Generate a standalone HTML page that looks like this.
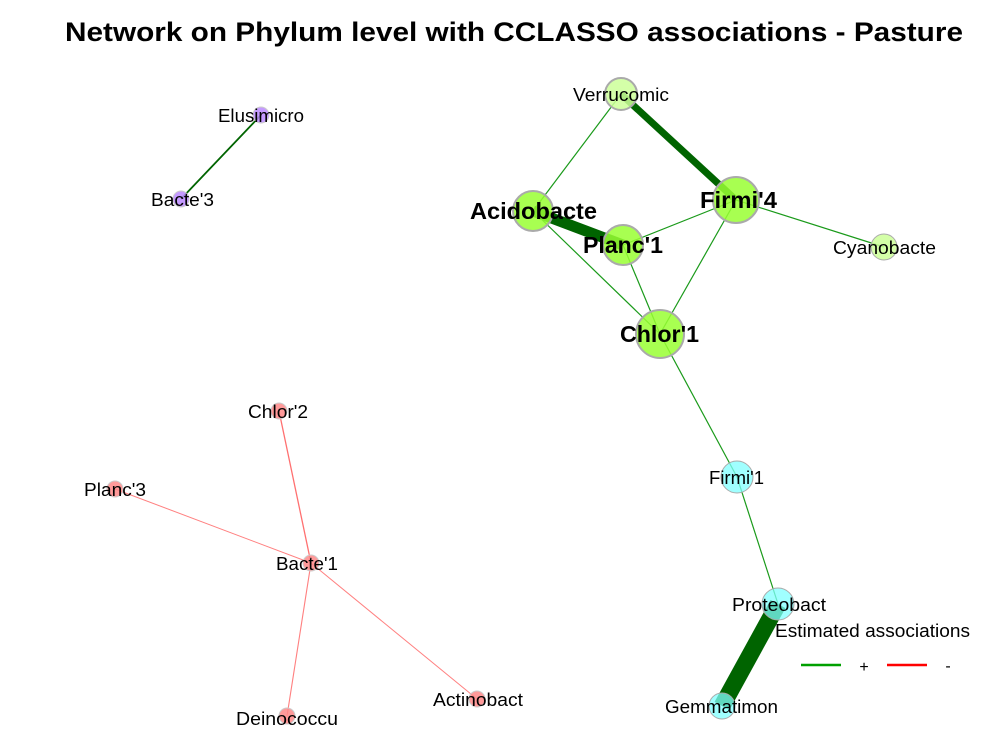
<!DOCTYPE html>
<html><head><meta charset="utf-8"><style>
html,body{margin:0;padding:0;background:#fff;}
svg{display:block;font-family:"Liberation Sans",Arial,sans-serif;}
</style></head><body>
<svg width="1000" height="750" viewBox="0 0 1000 750">
<rect width="1000" height="750" fill="#fff"/>
<text x="65" y="41" font-size="27" font-weight="bold" textLength="898" lengthAdjust="spacingAndGlyphs">Network on Phylum level with CCLASSO associations - Pasture</text>
<!-- edges -->
<g stroke-linecap="butt">
<line x1="621" y1="94" x2="736" y2="200" stroke="#006400" stroke-width="7"/>
<line x1="621" y1="94" x2="533" y2="211" stroke="#1a9a1a" stroke-width="1.2"/>
<line x1="533" y1="211" x2="623" y2="245" stroke="#006400" stroke-width="11"/>
<line x1="533" y1="211" x2="660" y2="334" stroke="#1a9a1a" stroke-width="1.2"/>
<line x1="623" y1="245" x2="736" y2="200" stroke="#1a9a1a" stroke-width="1.2"/>
<line x1="623" y1="245" x2="660" y2="334" stroke="#1a9a1a" stroke-width="1.2"/>
<line x1="736" y1="200" x2="660" y2="334" stroke="#1a9a1a" stroke-width="1.2"/>
<line x1="736" y1="200" x2="884" y2="247" stroke="#1a9a1a" stroke-width="1.2"/>
<line x1="660" y1="334" x2="737" y2="477" stroke="#1a9a1a" stroke-width="1.2"/>
<line x1="737" y1="477" x2="778" y2="604" stroke="#1a9a1a" stroke-width="1.2"/>
<line x1="778" y1="604" x2="722" y2="706" stroke="#006400" stroke-width="17"/>
<line x1="261" y1="115" x2="181" y2="199" stroke="#006400" stroke-width="1.8"/>
<line x1="279" y1="411" x2="311" y2="563" stroke="#ff7070" stroke-width="1.3"/>
<line x1="115" y1="489" x2="311" y2="563" stroke="#ff8080" stroke-width="1"/>
<line x1="311" y1="563" x2="287" y2="716" stroke="#ff8080" stroke-width="1.1"/>
<line x1="311" y1="563" x2="477" y2="699" stroke="#ff8080" stroke-width="1"/>
</g>
<!-- nodes -->
<g stroke="#aaa" stroke-width="2">
<circle cx="621" cy="94" r="16" fill="#ccff99" fill-opacity="0.85"/>
<circle cx="533" cy="211" r="20" fill="#99ff33" fill-opacity="0.85"/>
<circle cx="623" cy="245" r="20" fill="#99ff33" fill-opacity="0.85"/>
<circle cx="736" cy="200" r="23" fill="#99ff33" fill-opacity="0.85"/>
<circle cx="884" cy="247" r="13" fill="#ccff99" fill-opacity="0.85" stroke-width="1"/>
<circle cx="660" cy="334" r="24" fill="#99ff33" fill-opacity="0.85"/>
<circle cx="737" cy="477" r="16" fill="#80ffff" fill-opacity="0.75" stroke-width="1"/>
<circle cx="778" cy="604" r="16" fill="#80ffff" fill-opacity="0.75" stroke-width="1"/>
<circle cx="722" cy="706" r="13" fill="#80ffff" fill-opacity="0.75" stroke-width="1"/>
</g>
<g stroke="#ccc" stroke-width="1" fill-opacity="0.85">
<circle cx="261" cy="115" r="8" fill="#bb88ff"/>
<circle cx="181" cy="199" r="8" fill="#bb88ff"/>
<circle cx="279" cy="411" r="8" fill="#ff8888"/>
<circle cx="115" cy="489" r="8" fill="#ff8888"/>
<circle cx="311" cy="563" r="8" fill="#ff8888"/>
<circle cx="287" cy="716" r="8" fill="#ff8888"/>
<circle cx="477" cy="699" r="8" fill="#ff8888"/>
</g>
<!-- labels -->
<g font-size="18" fill="#000" lengthAdjust="spacingAndGlyphs">
<text x="573" y="101" textLength="96" lengthAdjust="spacingAndGlyphs">Verrucomic</text>
<text x="833" y="254" textLength="103" lengthAdjust="spacingAndGlyphs">Cyanobacte</text>
<text x="709" y="484" textLength="55" lengthAdjust="spacingAndGlyphs">Firmi'1</text>
<text x="732" y="611" textLength="94" lengthAdjust="spacingAndGlyphs">Proteobact</text>
<text x="665" y="713" textLength="113" lengthAdjust="spacingAndGlyphs">Gemmatimon</text>
<text x="218" y="122" textLength="86" lengthAdjust="spacingAndGlyphs">Elusimicro</text>
<text x="151" y="206" textLength="63" lengthAdjust="spacingAndGlyphs">Bacte'3</text>
<text x="248" y="418" textLength="60" lengthAdjust="spacingAndGlyphs">Chlor'2</text>
<text x="84" y="496" textLength="62" lengthAdjust="spacingAndGlyphs">Planc'3</text>
<text x="276" y="570" textLength="62" lengthAdjust="spacingAndGlyphs">Bacte'1</text>
<text x="236" y="725" textLength="102" lengthAdjust="spacingAndGlyphs">Deinococcu</text>
<text x="433" y="706" textLength="90" lengthAdjust="spacingAndGlyphs">Actinobact</text>
</g>
<g font-size="23" font-weight="bold" fill="#000">
<text x="470" y="219" textLength="127" lengthAdjust="spacingAndGlyphs">Acidobacte</text>
<text x="583" y="253" textLength="80" lengthAdjust="spacingAndGlyphs">Planc'1</text>
<text x="700" y="208" textLength="77" lengthAdjust="spacingAndGlyphs">Firmi'4</text>
<text x="620" y="342" textLength="79" lengthAdjust="spacingAndGlyphs">Chlor'1</text>
</g>
<!-- legend -->
<text x="775" y="637" font-size="18" textLength="195" lengthAdjust="spacingAndGlyphs">Estimated associations</text>
<line x1="801" y1="665" x2="841" y2="665" stroke="#00a000" stroke-width="2.5"/>
<text x="864" y="672" font-size="16" text-anchor="middle">+</text>
<line x1="887" y1="665" x2="927" y2="665" stroke="#ff0000" stroke-width="2.5"/>
<text x="948" y="671" font-size="16" text-anchor="middle">-</text>
</svg>
</body></html>
